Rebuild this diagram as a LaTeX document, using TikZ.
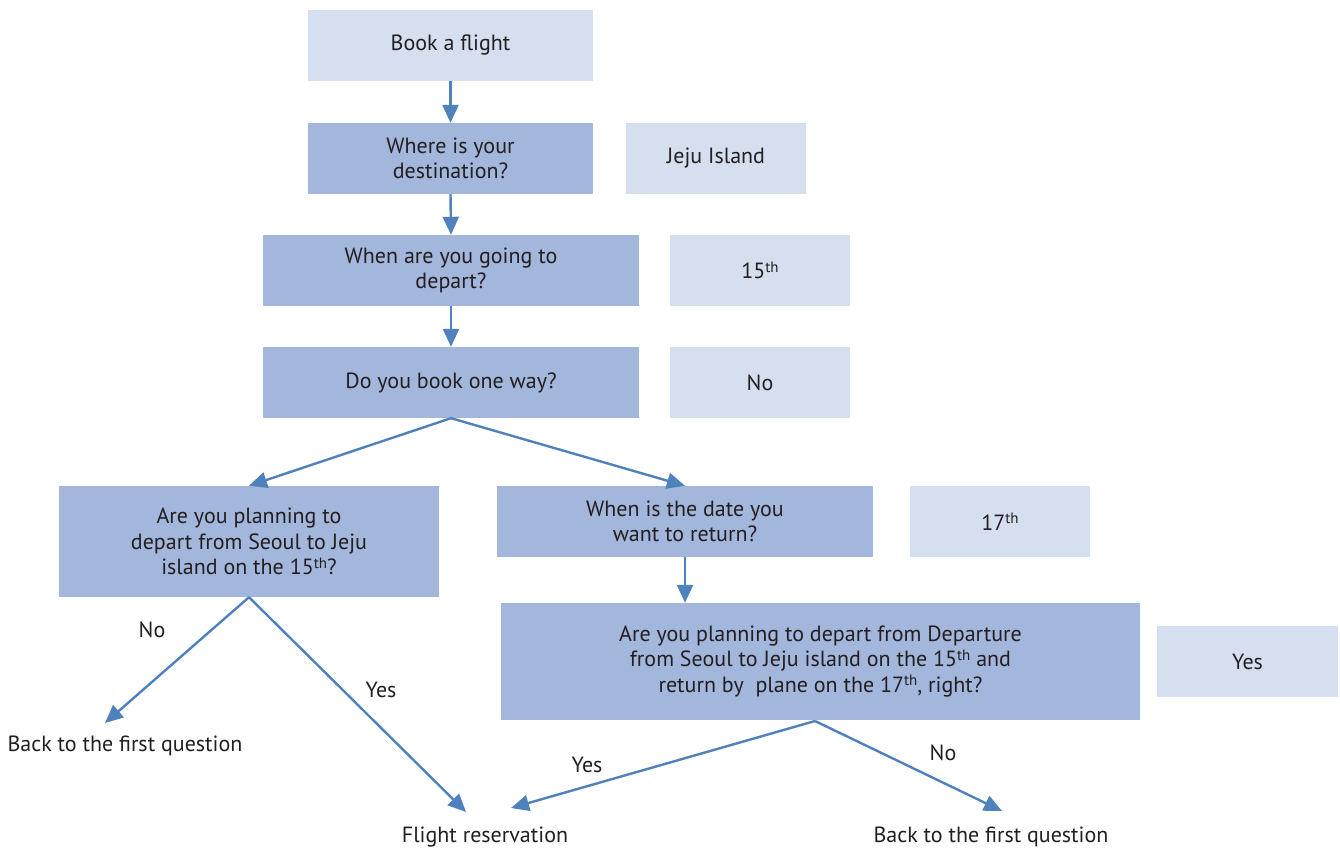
\documentclass[tikz,border=0pt]{standalone}
\usepackage{fontspec}
\setmainfont{PT Sans}
\usetikzlibrary{arrows.meta}
\definecolor{lightbox}{HTML}{D6DFEF}
\definecolor{darkbox}{HTML}{A3B6DC}
\definecolor{arrowc}{HTML}{4F81BD}
\definecolor{txt}{HTML}{231F20}
\newcommand\myth{\raisebox{0.6ex}{\fontsize{15}{15}\selectfont th}}
\begin{document}
\begin{tikzpicture}[x=1pt,y=-1pt,
  every node/.style={font=\fontsize{22}{25.5}\selectfont, text=txt, inner sep=0pt},
  lbox/.style={fill=lightbox, align=center, anchor=center},
  dbox/.style={fill=darkbox, align=center, anchor=center},
  conn/.style={draw=arrowc, line width=2.4pt, -{Triangle[length=18pt,width=16pt]}},
  plain/.style={align=center}]
\useasboundingbox (0,0) rectangle (1340,850);
\node[lbox, minimum width=285pt, minimum height=71pt] (book) at (450.5,45.5) {Book a flight};
\node[dbox, minimum width=285pt, minimum height=71pt] (dest) at (450.5,158.5) {Where is your\\destination?};
\node[lbox, minimum width=180pt, minimum height=71pt] (jeju) at (716,158.5) {Jeju Island};
\node[dbox, minimum width=376pt, minimum height=71pt] (depart) at (451,270.5) {When are you going to\\depart?};
\node[lbox, minimum width=180pt, minimum height=71pt] (d15) at (760,270.5) {15\myth};
\node[dbox, minimum width=376pt, minimum height=71pt] (oneway) at (451,382.5) {Do you book one way?};
\node[lbox, minimum width=180pt, minimum height=71pt] (no1) at (760,382.5) {No};
\node[dbox, minimum width=380pt, minimum height=111pt] (plan) at (249,541.5) {Are you planning to\\depart from Seoul to Jeju\\island on the 15\myth?};
\node[dbox, minimum width=376pt, minimum height=71pt] (ret) at (685,521.5) {When is the date you\\want to return?};
\node[lbox, minimum width=180pt, minimum height=71pt] (d17) at (1000,521.5) {17\myth};
\node[dbox, minimum width=639pt, minimum height=117pt] (big) at (820.5,661.5) {Are you planning to depart from Departure\\from Seoul to Jeju island on the 15\myth{} and\\return by\ \ plane on the 17\myth, right?};
\node[lbox, minimum width=181pt, minimum height=71pt] (yes1) at (1247.5,661.5) {Yes};
\node[plain] (back1) at (125,746) {Back to the first question};
\node[plain] (flight) at (485,837) {Flight reservation};
\node[plain] (back2) at (991,837) {Back to the first question};
\node (lno1) at (152,630) {No};
\node (lyes1) at (381,690) {Yes};
\node (lyes2) at (587,765) {Yes};
\node (lno2) at (943,753) {No};
\coordinate (t1) at (105,723);
\coordinate (t2) at (466,812);
\coordinate (t3) at (511,808);
\coordinate (t4) at (1002,811);
\coordinate (bs) at (815,721);
\draw[conn] (book.south) -- (dest.north);
\draw[conn] (dest.south) -- (depart.north);
\draw[conn] (depart.south) -- (oneway.north);
\draw[conn] (oneway.south) -- (plan.north);
\draw[conn] (oneway.south) -- (ret.north);
\draw[conn] (ret.south) -- (ret.south |- big.north);
\draw[conn] (plan.south) -- (t1);
\draw[conn] (plan.south) -- (t2);
\draw[conn] (bs) -- (t3);
\draw[conn] (bs) -- (t4);
\end{tikzpicture}
\end{document}
